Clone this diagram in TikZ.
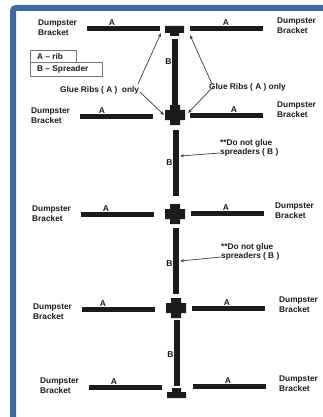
\documentclass[tikz,border=0pt]{standalone}
\usepackage{fontspec}
\setmainfont{Liberation Sans}
\definecolor{frame}{HTML}{3F6A9E}
\definecolor{ink}{HTML}{1C1C1C}
\usetikzlibrary{arrows.meta}
\tikzset{
  x=1pt,y=-1pt,
  bar/.style={fill=ink,draw=none,inner sep=0pt,minimum width=73pt,minimum height=5pt},
  spreader/.style={fill=ink,draw=none,inner sep=0pt,minimum width=6pt,minimum height=66pt},
  lab/.style={font=\bfseries\fontsize{8.3}{9.4}\selectfont,text=ink,inner sep=0pt,align=left,anchor=north west},
  let/.style={font=\bfseries\fontsize{8.5}{9}\selectfont,text=ink,inner sep=0pt},
  keybox/.style={draw=ink!60,line width=.5pt,inner sep=0pt,fill=white},
  lead/.style={draw=ink!85,line width=.7pt,-{Stealth[length=4pt,width=3pt]}}
}
\newcommand{\crossat}[3]{%
 \fill[ink] (#2-10,#3-5) -- (#2-5,#3-5) -- (#2-5,#3-10) -- (#2+5,#3-10) -- (#2+5,#3-5) -- (#2+10,#3-5) -- (#2+10,#3+5) -- (#2+5,#3+5) -- (#2+5,#3+10) -- (#2-5,#3+10) -- (#2-5,#3+5) -- (#2-10,#3+5) -- cycle;
 \coordinate (#1) at (#2,#3);}
\begin{document}
\begin{tikzpicture}
\useasboundingbox (0,0) rectangle (323,417);
\fill[white] (0,0) rectangle (323,417);
\draw[frame,line width=6pt,rounded corners=3pt] (13,420) -- (13,8) -- (326,8);
% row 1
\node[bar] (a1l) at (123,29) {};
\node[bar] (a1r) at (226,29) {};
\node[let] (a1lt) at (112,23) {A};
\node[let] (a1rt) at (226,23) {A};
\fill[ink] (165,26) rectangle (184,33) (170,33) rectangle (179,36);
\coordinate (t1) at (174.5,31);
\node[lab] (d1l) at (38,20) {Dumpster\\Bracket};
\node[lab] (d1r) at (277,18) {Dumpster\\Bracket};
\node[spreader] (s1) at (174.5,72) {};
\node[let] (b1) at (168.5,62) {B};
% legend
\node[keybox,minimum width=46pt,minimum height=12pt,anchor=north west] (k1) at (30,50) {};
\node[keybox,minimum width=72pt,minimum height=14pt,anchor=north west] (k2) at (30,62) {};
\node[lab,anchor=west] (k1t) at (37,56.5) {A -- rib};
\node[lab,anchor=west] (k2t) at (37,69) {B -- Spreader};
% row 2
\node[bar] (a2l) at (116.5,116) {};
\node[bar] (a2r) at (226.5,115) {};
\node[let] (a2lt) at (102,111) {A};
\node[let] (a2rt) at (234,110) {A};
\crossat{c2}{175}{115}
\node[lab] (d2l) at (31,108) {Dumpster\\Bracket};
\node[lab] (d2r) at (277,102) {Dumpster\\Bracket};
% glue
\node[lab,anchor=west] (gl) at (60,90) {Glue Ribs ( A )\ \ only};
\node[lab,anchor=west] (gr) at (209,87) {Glue Ribs ( A ) only};
\coordinate (gla) at (138,84); \coordinate (glb) at (140,92);
\coordinate (gra) at (212,84); \coordinate (grb) at (213,87);
\coordinate (t1l) at (161,33); \coordinate (t1r) at (190,35);
\coordinate (c2l) at (164,115); \coordinate (c2r) at (188,113);
\draw[lead] (gla) -- (t1l);
\draw[lead] (glb) -- (c2l);
\draw[lead] (gra) -- (t1r);
\draw[lead] (grb) -- (c2r);
% spreader 2
\node[spreader] (s2) at (175.5,162.5) {};
\node[let] (b2) at (169.5,163) {B};
\node[lab] (n1) at (220,139) {**Do not glue\\spreaders ( B )};
\coordinate (n1a) at (220,153); \coordinate (s2a) at (180,156);
\draw[lead] (n1a) -- (s2a);
% row 3
\node[bar] (a3l) at (117,214.5) {};
\node[bar] (a3r) at (227.5,213.5) {};
\node[let] (a3lt) at (106,209) {A};
\node[let] (a3rt) at (226,208) {A};
\crossat{c3}{175}{214}
\node[lab] (d3l) at (32,206) {Dumpster\\Bracket};
\node[lab] (d3r) at (275,203) {Dumpster\\Bracket};
% spreader 3
\node[spreader] (s3) at (176,261) {};
\node[let] (b3) at (169.5,264) {B};
\node[lab] (n2) at (221,243) {**Do not glue\\spreaders ( B )};
\coordinate (n2a) at (221,257); \coordinate (s3a) at (180,261);
\draw[lead] (n2a) -- (s3a);
% row 4
\node[bar] (a4l) at (118,309) {};
\node[bar] (a4r) at (228,308) {};
\node[let] (a4lt) at (103,304) {A};
\node[let] (a4rt) at (227,303) {A};
\crossat{c4}{176}{308}
\node[lab] (d4l) at (33,304) {Dumpster\\Bracket};
\node[lab] (d4r) at (279,297) {Dumpster\\Bracket};
% spreader 4
\node[spreader] (s4) at (177,353) {};
\node[let] (b4) at (170.5,355) {B};
% row 5
\node[bar] (a5l) at (125.5,387) {};
\node[bar] (a5r) at (229,386) {};
\node[let] (a5lt) at (114,382) {A};
\node[let] (a5rt) at (228,381) {A};
\fill[ink] (172,388) rectangle (181,392) (167,392) rectangle (186,398);
\node[lab] (d5l) at (40,378) {Dumpster\\Bracket};
\node[lab] (d5r) at (279,376) {Dumpster\\Bracket};
\end{tikzpicture}
\end{document}
